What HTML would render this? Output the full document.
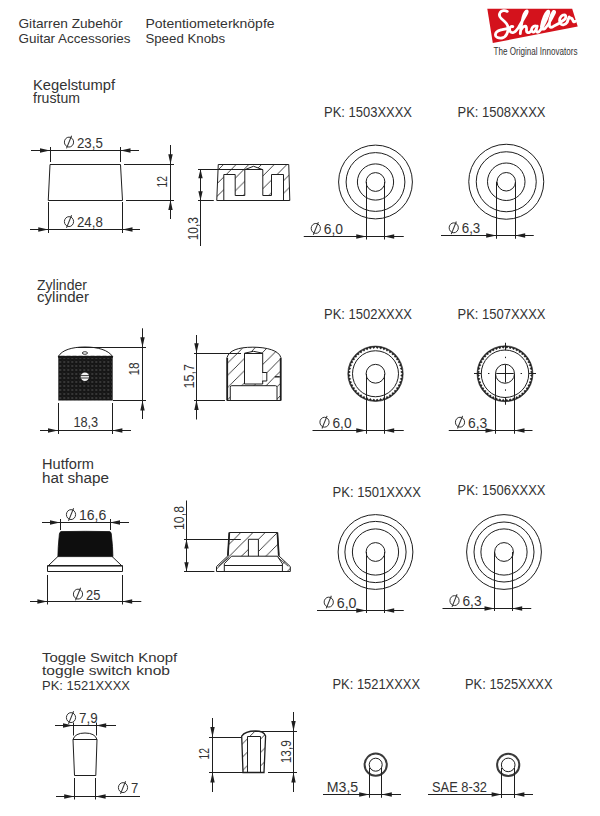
<!DOCTYPE html>
<html><head><meta charset="utf-8"><style>
html,body{margin:0;padding:0;background:#fff;}
body{width:600px;height:816px;overflow:hidden;position:relative;}
svg{position:absolute;left:0;top:0;}
text{font-family:"Liberation Sans",sans-serif;}
</style></head><body>
<svg width="600" height="816" viewBox="0 0 600 816">
<defs>
<pattern id="hatch1" patternUnits="userSpaceOnUse" x="7.0" y="0" width="12.7" height="12.7"><path d="M-1,13.7 L13.7,-1 M-1,1 L1,-1 M11.7,13.7 L13.7,11.7" stroke="#1e1e1e" stroke-width="0.85"/></pattern><pattern id="hatch2" patternUnits="userSpaceOnUse" x="5.1" y="0" width="12.2" height="12.2"><path d="M-1,13.2 L13.2,-1 M-1,1 L1,-1 M11.2,13.2 L13.2,11.2" stroke="#1e1e1e" stroke-width="0.85"/></pattern><pattern id="hatch3" patternUnits="userSpaceOnUse" x="4.7" y="0" width="12.2" height="12.2"><path d="M-1,13.2 L13.2,-1 M-1,1 L1,-1 M11.2,13.2 L13.2,11.2" stroke="#1e1e1e" stroke-width="0.85"/></pattern><pattern id="hatch4" patternUnits="userSpaceOnUse" x="8.0" y="0" width="13.4" height="13.4"><path d="M-1,14.4 L14.4,-1 M-1,1 L1,-1 M12.4,14.4 L14.4,12.4" stroke="#1e1e1e" stroke-width="0.85"/></pattern>
<pattern id="knurl" patternUnits="userSpaceOnUse" x="58.3" y="356" width="4" height="4">
<circle cx="2" cy="2" r="0.8" fill="#5e5e5e"/><circle cx="0" cy="0" r="0.5" fill="#3a3a3a"/></pattern>
<clipPath id="c1"><path d="M218.25,164.5 L288.75,164.5 L289.8,200.5 L216.75,200.5 Z"/></clipPath>
<clipPath id="c2"><path d="M227,400.5 V357.6 C229,350.5 238,347.2 252.8,347.2 C267,347.2 279,350.5 280.9,357.6 V400.5 Z"/></clipPath>
<clipPath id="c3"><path d="M229.3,532.5 L277.4,532.5 L278.8,555.8 L290.3,566.6 L290.3,571.5 L216.5,571.5 L216.5,566.6 L227.9,555.8 Z"/></clipPath>
<clipPath id="c4"><path d="M241.7,736.2 C244,732.5 249,731 255.5,731 C261,731 264.5,733 265.6,735.9 L264,772.5 L243,772.5 Z"/></clipPath>
</defs>
<text x="18.5" y="27.9" font-size="13" fill="#333333" text-anchor="start" textLength="104" lengthAdjust="spacingAndGlyphs" >Gitarren Zubehör</text>
<text x="18.5" y="42.9" font-size="13" fill="#333333" text-anchor="start" textLength="112" lengthAdjust="spacingAndGlyphs" >Guitar Accessories</text>
<text x="145.4" y="27.9" font-size="13" fill="#333333" text-anchor="start" textLength="129.2" lengthAdjust="spacingAndGlyphs" >Potentiometerknöpfe</text>
<text x="145.4" y="42.9" font-size="13" fill="#333333" text-anchor="start" textLength="79.7" lengthAdjust="spacingAndGlyphs" >Speed Knobs</text>
<polygon points="487.3,8.7 572.2,8.7 577.7,26.4 492.8,43.1" fill="#d4121c"/>
<path d="M507.3,11.4 C505,10.2 501.5,10.4 500.1,12.6 C498.8,14.8 499.5,17 501.5,18.8 C504,21 507.4,23 508,27 C508.5,31.5 506.5,37.3 502,38 C498.5,38.5 495.4,37.3 495.4,35 C495.4,32.5 498,30.6 501,29.9 C503.5,29.4 506.3,28.9 508.6,28.2 M512.8,26.6 C511,25.9 509.4,27.6 509.6,29.8 C509.8,32 511.5,33 513.5,32.5 C515.5,32 517,29.5 518.5,27.5 C520.5,24 523.5,19 525.5,15.5 C527,12.8 527.8,11 526.8,11 C525.5,11 524,14 523,17.5 C521.8,22 520.6,28 520.3,33.6 M520.8,30.2 C522,28 523.8,26.2 525.4,26.2 C527,26.4 526.4,29 526.5,30.8 C526.6,32.4 528,33 529.5,32.4 C530.5,32 531,31 531.5,30.2 M536.5,26.2 C534.5,25.3 532.2,26.8 531.6,29 C531.2,31 532.5,32.5 534,32 C535.5,31.4 536.5,28.5 537.2,26.2 C536.5,28.5 536,31.2 537,32 C538,32.6 539.5,31.5 540.5,30 C543,26.5 546.5,19.5 548.4,14 C549.3,11.5 548.6,10.5 547.4,11.5 C545,14 542.5,21 541.5,26 C541,29 542.5,30 545,28.5 C548,25.5 552,18 554.2,13.5 C555.2,11.4 554.3,10.7 553,12 C550.8,15 549.2,21.5 549.4,25.5 C549.6,27.8 551.5,27.6 553.5,26.3 C556,25.2 561,22.2 564.3,19.6 C566.3,18 566.3,15 564.3,14.8 C562,14.6 559.8,17.5 559.6,20 C559.4,23 561,25 563.3,24.8 C565,24.6 566.5,23.5 567.2,22.3 C567.8,20.5 568.3,18.5 569.2,16.9 C569.8,17.6 570,18.3 570.8,18.2 C571.6,18 572.4,19 572.9,20.5 C573.4,22 574.3,22.4 575.3,21.3" fill="none" stroke="#fff" stroke-width="2.8" stroke-linecap="round" stroke-linejoin="round"/>
<text x="493.6" y="54.9" font-size="10" fill="#333" text-anchor="start" textLength="84" lengthAdjust="spacingAndGlyphs" >The Original Innovators</text>
<text x="33" y="89.8" font-size="14" fill="#333333" text-anchor="start" textLength="82" lengthAdjust="spacingAndGlyphs" >Kegelstumpf</text>
<text x="33" y="102.6" font-size="14" fill="#333333" text-anchor="start" textLength="47" lengthAdjust="spacingAndGlyphs" >frustum</text>
<text x="37" y="290.3" font-size="14" fill="#333333" text-anchor="start" textLength="50" lengthAdjust="spacingAndGlyphs" >Zylinder</text>
<text x="37" y="302.2" font-size="14" fill="#333333" text-anchor="start" textLength="52" lengthAdjust="spacingAndGlyphs" >cylinder</text>
<text x="42" y="469.4" font-size="14" fill="#333333" text-anchor="start" textLength="52" lengthAdjust="spacingAndGlyphs" >Hutform</text>
<text x="42" y="482.6" font-size="14" fill="#333333" text-anchor="start" textLength="67" lengthAdjust="spacingAndGlyphs" >hat shape</text>
<text x="42" y="662.3" font-size="13" fill="#333333" text-anchor="start" textLength="135.2" lengthAdjust="spacingAndGlyphs" >Toggle Switch Knopf</text>
<text x="42" y="674.6" font-size="13" fill="#333333" text-anchor="start" textLength="128" lengthAdjust="spacingAndGlyphs" >toggle switch knob</text>
<text x="42" y="689.8" font-size="13" fill="#333333" text-anchor="start" textLength="88" lengthAdjust="spacingAndGlyphs" >PK: 1521XXXX</text>
<text x="324" y="116.8" font-size="14" fill="#333333" text-anchor="start" textLength="88" lengthAdjust="spacingAndGlyphs" >PK: 1503XXXX</text>
<text x="457.5" y="116.8" font-size="14" fill="#333333" text-anchor="start" textLength="88" lengthAdjust="spacingAndGlyphs" >PK: 1508XXXX</text>
<text x="324" y="319.3" font-size="14" fill="#333333" text-anchor="start" textLength="88" lengthAdjust="spacingAndGlyphs" >PK: 1502XXXX</text>
<text x="457.5" y="319.3" font-size="14" fill="#333333" text-anchor="start" textLength="88" lengthAdjust="spacingAndGlyphs" >PK: 1507XXXX</text>
<text x="332.5" y="496.8" font-size="14" fill="#333333" text-anchor="start" textLength="88.5" lengthAdjust="spacingAndGlyphs" >PK: 1501XXXX</text>
<text x="457.5" y="495.3" font-size="14" fill="#333333" text-anchor="start" textLength="88" lengthAdjust="spacingAndGlyphs" >PK: 1506XXXX</text>
<text x="332.5" y="689.3" font-size="14" fill="#333333" text-anchor="start" textLength="87.5" lengthAdjust="spacingAndGlyphs" >PK: 1521XXXX</text>
<text x="465" y="689.3" font-size="14" fill="#333333" text-anchor="start" textLength="87.5" lengthAdjust="spacingAndGlyphs" >PK: 1525XXXX</text>
<path d="M50,164.5 L120.5,164.5 L122.5,200.5 L48.25,200.5 Z" fill="none" stroke="#1e1e1e" stroke-width="1.0" />
<line x1="50.5" y1="147" x2="50.5" y2="162" stroke="#1e1e1e" stroke-width="1.0"/>
<line x1="120.5" y1="147" x2="120.5" y2="162" stroke="#1e1e1e" stroke-width="1.0"/>
<line x1="31" y1="150.5" x2="139" y2="150.5" stroke="#1e1e1e" stroke-width="1.0"/>
<polygon points="50.00,150.50 40.00,148.30 40.00,152.70" fill="#1e1e1e"/>
<polygon points="120.50,150.50 130.50,148.30 130.50,152.70" fill="#1e1e1e"/>
<ellipse cx="69.00" cy="142.10" rx="4.6" ry="4.95" fill="none" stroke="#333333" stroke-width="1.0"/>
<line x1="66.50" y1="148.40" x2="71.60" y2="135.80" stroke="#333333" stroke-width="1.05"/>
<text x="77.0" y="147.5" font-size="14" fill="#333333" text-anchor="start" textLength="25.8" lengthAdjust="spacingAndGlyphs" >23,5</text>
<line x1="48.5" y1="202" x2="48.5" y2="233" stroke="#1e1e1e" stroke-width="1.0"/>
<line x1="122.5" y1="202" x2="122.5" y2="233" stroke="#1e1e1e" stroke-width="1.0"/>
<line x1="30" y1="229.5" x2="140" y2="229.5" stroke="#1e1e1e" stroke-width="1.0"/>
<polygon points="48.25,229.50 38.25,227.30 38.25,231.70" fill="#1e1e1e"/>
<polygon points="122.50,229.50 132.50,227.30 132.50,231.70" fill="#1e1e1e"/>
<ellipse cx="69.00" cy="221.60" rx="4.6" ry="4.95" fill="none" stroke="#333333" stroke-width="1.0"/>
<line x1="66.50" y1="227.90" x2="71.60" y2="215.30" stroke="#333333" stroke-width="1.05"/>
<text x="77.0" y="227" font-size="14" fill="#333333" text-anchor="start" textLength="25.8" lengthAdjust="spacingAndGlyphs" >24,8</text>
<line x1="124" y1="164.5" x2="174" y2="164.5" stroke="#1e1e1e" stroke-width="1.0"/>
<line x1="126" y1="200.5" x2="174" y2="200.5" stroke="#1e1e1e" stroke-width="1.0"/>
<line x1="170.5" y1="145" x2="170.5" y2="219" stroke="#1e1e1e" stroke-width="1.0"/>
<polygon points="170.50,164.25 168.30,154.25 172.70,154.25" fill="#1e1e1e"/>
<polygon points="170.50,200.00 168.30,210.00 172.70,210.00" fill="#1e1e1e"/>
<text x="167" y="181.75" font-size="14" fill="#333333" text-anchor="middle" textLength="11.5" lengthAdjust="spacingAndGlyphs" transform="rotate(-90 167 181.75)" >12</text>
<g clip-path="url(#c1)"><rect x="210" y="160" width="90" height="45" fill="url(#hatch1)"/></g>
<path d="M223.8,200.5 V174.5 H235.2 V195.5 H244.8 V169.7 L253.5,166.25 L262.8,169.7 V195.5 H271.5 V174.5 H283.5 V200.5 Z" fill="#fff" stroke="#1e1e1e" stroke-width="0" stroke-opacity="0"/>
<path d="M223.8,200.5 V174.5 H235.2 V195.5 H244.8 V169.7 L253.5,166.25 L262.8,169.7 V195.5 H271.5 V174.5 H283.5 V200.5" fill="none" stroke="#1e1e1e" stroke-width="1.0" />
<line x1="244.8" y1="169.5" x2="262.8" y2="169.5" stroke="#1e1e1e" stroke-width="1.0"/>
<path d="M218.25,164.5 L288.75,164.5 L289.8,200.5 L216.75,200.5 Z" fill="none" stroke="#1e1e1e" stroke-width="1.0" />
<line x1="198" y1="169.5" x2="244.8" y2="169.5" stroke="#1e1e1e" stroke-width="1.0"/>
<line x1="198" y1="200.5" x2="213.8" y2="200.5" stroke="#1e1e1e" stroke-width="1.0"/>
<line x1="200.5" y1="169.3" x2="200.5" y2="246" stroke="#1e1e1e" stroke-width="1.0"/>
<polygon points="200.50,169.30 198.30,178.30 202.70,178.30" fill="#1e1e1e"/>
<polygon points="200.50,200.20 198.30,191.20 202.70,191.20" fill="#1e1e1e"/>
<text x="198" y="228.65" font-size="14" fill="#333333" text-anchor="middle" textLength="23.3" lengthAdjust="spacingAndGlyphs" transform="rotate(-90 198 228.65)" >10,3</text>
<circle cx="375.5" cy="182" r="36.9" fill="none" stroke="#1e1e1e" stroke-width="1.0"/>
<circle cx="375.5" cy="182" r="29.4" fill="none" stroke="#1e1e1e" stroke-width="1.0"/>
<circle cx="375.5" cy="182" r="18.1" fill="none" stroke="#1e1e1e" stroke-width="1.0"/>
<circle cx="375.5" cy="182" r="9.4" fill="none" stroke="#1e1e1e" stroke-width="1.0"/>
<line x1="366.5" y1="182" x2="366.5" y2="239.5" stroke="#1e1e1e" stroke-width="1.0"/>
<line x1="384.5" y1="182" x2="384.5" y2="239.5" stroke="#1e1e1e" stroke-width="1.0"/>
<line x1="303.75" y1="236.5" x2="403.75" y2="236.5" stroke="#1e1e1e" stroke-width="1.0"/>
<polygon points="366.25,236.50 356.25,234.30 356.25,238.70" fill="#1e1e1e"/>
<polygon points="384.20,236.50 394.20,234.30 394.20,238.70" fill="#1e1e1e"/>
<ellipse cx="315.80" cy="228.40" rx="4.6" ry="4.95" fill="none" stroke="#333333" stroke-width="1.0"/>
<line x1="313.30" y1="234.70" x2="318.40" y2="222.10" stroke="#333333" stroke-width="1.05"/>
<text x="323.8" y="233.8" font-size="14" fill="#333333" text-anchor="start" textLength="19.3" lengthAdjust="spacingAndGlyphs" >6,0</text>
<circle cx="506.25" cy="181.75" r="37.5" fill="none" stroke="#1e1e1e" stroke-width="1.0"/>
<circle cx="506.25" cy="181.75" r="30" fill="none" stroke="#1e1e1e" stroke-width="1.0"/>
<circle cx="506.25" cy="181.75" r="18.75" fill="none" stroke="#1e1e1e" stroke-width="1.0"/>
<circle cx="506.25" cy="181.75" r="9.25" fill="none" stroke="#1e1e1e" stroke-width="1.0"/>
<line x1="496.5" y1="181.75" x2="496.5" y2="238.75" stroke="#1e1e1e" stroke-width="1.0"/>
<line x1="515.5" y1="181.75" x2="515.5" y2="238.75" stroke="#1e1e1e" stroke-width="1.0"/>
<line x1="441" y1="235.5" x2="533.75" y2="235.5" stroke="#1e1e1e" stroke-width="1.0"/>
<polygon points="496.20,235.50 486.20,233.30 486.20,237.70" fill="#1e1e1e"/>
<polygon points="515.20,235.50 525.20,233.30 525.20,237.70" fill="#1e1e1e"/>
<ellipse cx="453.75" cy="227.80" rx="4.6" ry="4.95" fill="none" stroke="#333333" stroke-width="1.0"/>
<line x1="451.25" y1="234.10" x2="456.35" y2="221.50" stroke="#333333" stroke-width="1.05"/>
<text x="461.75" y="233.2" font-size="14" fill="#333333" text-anchor="start" textLength="18.55" lengthAdjust="spacingAndGlyphs" >6,3</text>
<path d="M58.3,356.5 C62,350 72,347 85,347 C98,347 108,350 112.7,356.5 Z" fill="#fff" stroke="#1e1e1e" stroke-width="1"/>
<rect x="58.3" y="356" width="54.4" height="44.5" fill="#161616"/>
<rect x="58.3" y="356" width="54.4" height="44.5" fill="url(#knurl)"/>
<path d="M58.3,356.6 L58.90,355.2 L59.50,356.6 L60.10,355.2 L60.70,356.6 L61.30,355.2 L61.90,356.6 L62.50,355.2 L63.10,356.6 L63.70,355.2 L64.30,356.6 L64.90,355.2 L65.50,356.6 L66.10,355.2 L66.70,356.6 L67.30,355.2 L67.90,356.6 L68.50,355.2 L69.10,356.6 L69.70,355.2 L70.30,356.6 L70.90,355.2 L71.50,356.6 L72.10,355.2 L72.70,356.6 L73.30,355.2 L73.90,356.6 L74.50,355.2 L75.10,356.6 L75.70,355.2 L76.30,356.6 L76.90,355.2 L77.50,356.6 L78.10,355.2 L78.70,356.6 L79.30,355.2 L79.90,356.6 L80.50,355.2 L81.10,356.6 L81.70,355.2 L82.30,356.6 L82.90,355.2 L83.50,356.6 L84.10,355.2 L84.70,356.6 L85.30,355.2 L85.90,356.6 L86.50,355.2 L87.10,356.6 L87.70,355.2 L88.30,356.6 L88.90,355.2 L89.50,356.6 L90.10,355.2 L90.70,356.6 L91.30,355.2 L91.90,356.6 L92.50,355.2 L93.10,356.6 L93.70,355.2 L94.30,356.6 L94.90,355.2 L95.50,356.6 L96.10,355.2 L96.70,356.6 L97.30,355.2 L97.90,356.6 L98.50,355.2 L99.10,356.6 L99.70,355.2 L100.30,356.6 L100.90,355.2 L101.50,356.6 L102.10,355.2 L102.70,356.6 L103.30,355.2 L103.90,356.6 L104.50,355.2 L105.10,356.6 L105.70,355.2 L106.30,356.6 L106.90,355.2 L107.50,356.6 L108.10,355.2 L108.70,356.6 L109.30,355.2 L109.90,356.6 L110.50,355.2 L111.10,356.6 L111.70,355.2 L112.30,356.6 L112.7,356.6 L112.7,358 L58.3,358 Z" fill="#161616"/>
<ellipse cx="84.9" cy="353" rx="2.6" ry="1.3" fill="none" stroke="#222" stroke-width="0.9"/>
<circle cx="84.9" cy="376.7" r="4.2" fill="#f4f4f4"/>
<line x1="80.5" y1="375.6" x2="89.3" y2="375.6" stroke="#222" stroke-width="0.9"/><line x1="80.5" y1="378" x2="89.3" y2="378" stroke="#222" stroke-width="0.9"/>
<line x1="78" y1="347.5" x2="146" y2="347.5" stroke="#1e1e1e" stroke-width="1.0"/>
<line x1="113" y1="400.5" x2="146" y2="400.5" stroke="#1e1e1e" stroke-width="1.0"/>
<line x1="142.5" y1="328.3" x2="142.5" y2="419" stroke="#1e1e1e" stroke-width="1.0"/>
<polygon points="142.50,347.20 140.30,337.20 144.70,337.20" fill="#1e1e1e"/>
<polygon points="142.50,400.50 140.30,410.50 144.70,410.50" fill="#1e1e1e"/>
<text x="139.25" y="368.9" font-size="14" fill="#333333" text-anchor="middle" textLength="13.25" lengthAdjust="spacingAndGlyphs" transform="rotate(-90 139.25 368.9)" >18</text>
<line x1="58.5" y1="403" x2="58.5" y2="434" stroke="#1e1e1e" stroke-width="1.0"/>
<line x1="112.5" y1="403" x2="112.5" y2="434" stroke="#1e1e1e" stroke-width="1.0"/>
<line x1="40" y1="430.5" x2="131" y2="430.5" stroke="#1e1e1e" stroke-width="1.0"/>
<polygon points="58.00,430.50 48.00,428.30 48.00,432.70" fill="#1e1e1e"/>
<polygon points="112.40,430.50 122.40,428.30 122.40,432.70" fill="#1e1e1e"/>
<text x="73.4" y="427.3" font-size="14" fill="#333333" text-anchor="start" textLength="24.8" lengthAdjust="spacingAndGlyphs" >18,3</text>
<g clip-path="url(#c2)"><rect x="220" y="340" width="70" height="65" fill="url(#hatch2)"/></g>
<path d="M244.5,384 V353.2 L253.5,351.3 L262.7,353.2 V384 Z" fill="#fff" stroke="#1e1e1e" stroke-width="1.0" />
<line x1="244.5" y1="353.5" x2="262.7" y2="353.5" stroke="#1e1e1e" stroke-width="1.0"/>
<path d="M230.25,400.5 V387.2 Q230.25,385.7 231.75,385.7 H275.5 Q277,385.7 277,387.2 V400.5 Z" fill="#fff" stroke="#1e1e1e" stroke-width="1.0" />
<path d="M262.2,372.5 H266.8 V381 H262.2" fill="#fff" stroke="#1e1e1e" stroke-width="1.0" />
<line x1="274.8" y1="376.8" x2="279.8" y2="376.8" stroke="#1e1e1e" stroke-width="1.4"/>
<path d="M227,400.5 V357.6 C229,350.5 238,347.2 252.8,347.2 C267,347.2 279,350.5 280.9,357.6 V400.5 Z" fill="none" stroke="#1e1e1e" stroke-width="1.0" />
<line x1="227.3" y1="358" x2="227.3" y2="400.5" stroke="#1e1e1e" stroke-width="1.6"/>
<line x1="280.6" y1="358" x2="280.6" y2="400.5" stroke="#1e1e1e" stroke-width="1.6"/>
<line x1="194" y1="353.5" x2="241" y2="353.5" stroke="#1e1e1e" stroke-width="1.0"/>
<line x1="194" y1="400.5" x2="225" y2="400.5" stroke="#1e1e1e" stroke-width="1.0"/>
<line x1="196.5" y1="335" x2="196.5" y2="419.5" stroke="#1e1e1e" stroke-width="1.0"/>
<polygon points="196.50,353.20 194.30,343.20 198.70,343.20" fill="#1e1e1e"/>
<polygon points="196.50,400.00 194.30,410.00 198.70,410.00" fill="#1e1e1e"/>
<text x="194" y="376.25" font-size="14" fill="#333333" text-anchor="middle" textLength="24.5" lengthAdjust="spacingAndGlyphs" transform="rotate(-90 194 376.25)" >15,7</text>
<path d="M347.8,373.75 a27.7,27.7 0 1,0 55.4,0 a27.7,27.7 0 1,0 -55.4,0 Z M402.80,373.75 L400.75,375.40 L402.57,377.31 L400.31,378.69 L401.87,380.82 L399.46,381.88 L400.72,384.20 L398.19,384.94 L399.14,387.40 L396.54,387.81 L397.16,390.37 L394.52,390.43 L394.80,393.05 L392.18,392.77 L392.12,395.41 L389.56,394.79 L389.15,397.39 L386.69,396.44 L385.95,398.97 L383.63,397.71 L382.57,400.12 L380.44,398.56 L379.06,400.82 L377.15,399.00 L375.50,401.05 L373.85,399.00 L371.94,400.82 L370.56,398.56 L368.43,400.12 L367.37,397.71 L365.05,398.97 L364.31,396.44 L361.85,397.39 L361.44,394.79 L358.88,395.41 L358.82,392.77 L356.20,393.05 L356.48,390.43 L353.84,390.37 L354.46,387.81 L351.86,387.40 L352.81,384.94 L350.28,384.20 L351.54,381.88 L349.13,380.82 L350.69,378.69 L348.43,377.31 L350.25,375.40 L348.20,373.75 L350.25,372.10 L348.43,370.19 L350.69,368.81 L349.13,366.68 L351.54,365.62 L350.28,363.30 L352.81,362.56 L351.86,360.10 L354.46,359.69 L353.84,357.13 L356.48,357.07 L356.20,354.45 L358.82,354.73 L358.88,352.09 L361.44,352.71 L361.85,350.11 L364.31,351.06 L365.05,348.53 L367.37,349.79 L368.43,347.38 L370.56,348.94 L371.94,346.68 L373.85,348.50 L375.50,346.45 L377.15,348.50 L379.06,346.68 L380.44,348.94 L382.57,347.38 L383.63,349.79 L385.95,348.53 L386.69,351.06 L389.15,350.11 L389.56,352.71 L392.12,352.09 L392.18,354.73 L394.80,354.45 L394.52,357.07 L397.16,357.13 L396.54,359.69 L399.14,360.10 L398.19,362.56 L400.72,363.30 L399.46,365.62 L401.87,366.68 L400.31,368.81 L402.57,370.19 L400.75,372.10 Z" fill="#1e1e1e" fill-rule="evenodd" stroke="#1e1e1e" stroke-width="0.6"/>
<circle cx="375.5" cy="373.75" r="23" fill="none" stroke="#1e1e1e" stroke-width="1.0"/>
<circle cx="375.5" cy="373.75" r="9.4" fill="#fff" stroke="#1e1e1e" stroke-width="1.0"/>
<line x1="366.5" y1="373.75" x2="366.5" y2="433.75" stroke="#1e1e1e" stroke-width="1.0"/>
<line x1="384.5" y1="373.75" x2="384.5" y2="433.75" stroke="#1e1e1e" stroke-width="1.0"/>
<line x1="312.5" y1="430.5" x2="403.75" y2="430.5" stroke="#1e1e1e" stroke-width="1.0"/>
<polygon points="366.25,430.50 356.25,428.30 356.25,432.70" fill="#1e1e1e"/>
<polygon points="384.20,430.50 394.20,428.30 394.20,432.70" fill="#1e1e1e"/>
<ellipse cx="324.50" cy="422.20" rx="4.6" ry="4.95" fill="none" stroke="#333333" stroke-width="1.0"/>
<line x1="322.00" y1="428.50" x2="327.10" y2="415.90" stroke="#333333" stroke-width="1.05"/>
<text x="332.5" y="427.6" font-size="14" fill="#333333" text-anchor="start" textLength="19.05" lengthAdjust="spacingAndGlyphs" >6,0</text>
<path d="M477.05,373.75 a27.95,27.95 0 1,0 55.9,0 a27.95,27.95 0 1,0 -55.9,0 Z M532.55,373.75 L530.50,375.42 L532.31,377.35 L530.06,378.73 L531.61,380.88 L529.19,381.96 L530.45,384.29 L527.92,385.05 L528.86,387.52 L526.24,387.94 L526.86,390.52 L524.21,390.60 L524.48,393.23 L521.85,392.96 L521.77,395.61 L519.19,394.99 L518.77,397.61 L516.30,396.67 L515.54,399.20 L513.21,397.94 L512.13,400.36 L509.98,398.81 L508.60,401.06 L506.67,399.25 L505.00,401.30 L503.33,399.25 L501.40,401.06 L500.02,398.81 L497.87,400.36 L496.79,397.94 L494.46,399.20 L493.70,396.67 L491.23,397.61 L490.81,394.99 L488.23,395.61 L488.15,392.96 L485.52,393.23 L485.79,390.60 L483.14,390.52 L483.76,387.94 L481.14,387.52 L482.08,385.05 L479.55,384.29 L480.81,381.96 L478.39,380.88 L479.94,378.73 L477.69,377.35 L479.50,375.42 L477.45,373.75 L479.50,372.08 L477.69,370.15 L479.94,368.77 L478.39,366.62 L480.81,365.54 L479.55,363.21 L482.08,362.45 L481.14,359.98 L483.76,359.56 L483.14,356.98 L485.79,356.90 L485.52,354.27 L488.15,354.54 L488.23,351.89 L490.81,352.51 L491.22,349.89 L493.70,350.83 L494.46,348.30 L496.79,349.56 L497.87,347.14 L500.02,348.69 L501.40,346.44 L503.33,348.25 L505.00,346.20 L506.67,348.25 L508.60,346.44 L509.98,348.69 L512.13,347.14 L513.21,349.56 L515.54,348.30 L516.30,350.83 L518.77,349.89 L519.19,352.51 L521.77,351.89 L521.85,354.54 L524.48,354.27 L524.21,356.90 L526.86,356.98 L526.24,359.56 L528.86,359.97 L527.92,362.45 L530.45,363.21 L529.19,365.54 L531.61,366.62 L530.06,368.77 L532.31,370.15 L530.50,372.08 Z" fill="#1e1e1e" fill-rule="evenodd" stroke="#1e1e1e" stroke-width="0.6"/>
<circle cx="505" cy="373.75" r="23.75" fill="none" stroke="#1e1e1e" stroke-width="1.0"/>
<circle cx="505" cy="373.75" r="9.5" fill="#fff" stroke="#1e1e1e" stroke-width="1.0"/>
<line x1="474" y1="373.5" x2="481.5" y2="373.5" stroke="#1e1e1e" stroke-width="1.0"/>
<line x1="505.5" y1="342.75" x2="505.5" y2="350.25" stroke="#1e1e1e" stroke-width="1.0"/>
<line x1="488" y1="373.5" x2="489.4" y2="373.5" stroke="#1e1e1e" stroke-width="1.0"/>
<line x1="505.5" y1="356.75" x2="505.5" y2="358.15" stroke="#1e1e1e" stroke-width="1.0"/>
<line x1="496.25" y1="373.5" x2="513.75" y2="373.5" stroke="#1e1e1e" stroke-width="1.0"/>
<line x1="505.5" y1="365.0" x2="505.5" y2="382.5" stroke="#1e1e1e" stroke-width="1.0"/>
<line x1="520.6" y1="373.5" x2="522" y2="373.5" stroke="#1e1e1e" stroke-width="1.0"/>
<line x1="505.5" y1="389.35" x2="505.5" y2="390.75" stroke="#1e1e1e" stroke-width="1.0"/>
<line x1="528.5" y1="373.5" x2="536" y2="373.5" stroke="#1e1e1e" stroke-width="1.0"/>
<line x1="505.5" y1="397.25" x2="505.5" y2="404.75" stroke="#1e1e1e" stroke-width="1.0"/>
<line x1="495.5" y1="373.75" x2="495.5" y2="433.75" stroke="#1e1e1e" stroke-width="1.0"/>
<line x1="514.5" y1="373.75" x2="514.5" y2="433.75" stroke="#1e1e1e" stroke-width="1.0"/>
<line x1="448.75" y1="430.5" x2="532.5" y2="430.5" stroke="#1e1e1e" stroke-width="1.0"/>
<polygon points="495.50,430.50 485.50,428.30 485.50,432.70" fill="#1e1e1e"/>
<polygon points="514.50,430.50 524.50,428.30 524.50,432.70" fill="#1e1e1e"/>
<ellipse cx="460.00" cy="422.20" rx="4.6" ry="4.95" fill="none" stroke="#333333" stroke-width="1.0"/>
<line x1="457.50" y1="428.50" x2="462.60" y2="415.90" stroke="#333333" stroke-width="1.05"/>
<text x="468.0" y="427.6" font-size="14" fill="#333333" text-anchor="start" textLength="19.3" lengthAdjust="spacingAndGlyphs" >6,3</text>
<path d="M61,531.6 Q85.3,531 109.8,531.6 Q111,531.9 111.3,534 Q112.9,548 112.9,556.6 L57.9,556.6 Q57.9,548 59.4,534 Q59.8,531.9 61,531.6 Z" fill="#0e0e0e" stroke="#0e0e0e" stroke-width="0.8"/>
<path d="M58,556.4 L48.5,565.5 L121.5,565.5 L112,556.4" fill="none" stroke="#1e1e1e" stroke-width="1.0" />
<path d="M47.5,565.5 L122.5,565.5 L122.5,571.5 L47.5,571.5 Z" fill="none" stroke="#1e1e1e" stroke-width="1.0" />
<line x1="48" y1="566.5" x2="122" y2="566.5" stroke="#666" stroke-width="0.8"/>
<line x1="60.5" y1="519" x2="60.5" y2="530" stroke="#1e1e1e" stroke-width="1.0"/>
<line x1="110.5" y1="519" x2="110.5" y2="530" stroke="#1e1e1e" stroke-width="1.0"/>
<line x1="42" y1="522.5" x2="129" y2="522.5" stroke="#1e1e1e" stroke-width="1.0"/>
<polygon points="60.00,522.50 50.00,520.30 50.00,524.70" fill="#1e1e1e"/>
<polygon points="110.00,522.50 120.00,520.30 120.00,524.70" fill="#1e1e1e"/>
<ellipse cx="71.00" cy="514.60" rx="4.6" ry="4.95" fill="none" stroke="#333333" stroke-width="1.0"/>
<line x1="68.50" y1="520.90" x2="73.60" y2="508.30" stroke="#333333" stroke-width="1.05"/>
<text x="79.0" y="520" font-size="14" fill="#333333" text-anchor="start" textLength="27.3" lengthAdjust="spacingAndGlyphs" >16,6</text>
<line x1="47.5" y1="575" x2="47.5" y2="604.5" stroke="#1e1e1e" stroke-width="1.0"/>
<line x1="122.5" y1="575" x2="122.5" y2="604.5" stroke="#1e1e1e" stroke-width="1.0"/>
<line x1="30" y1="601.5" x2="141.3" y2="601.5" stroke="#1e1e1e" stroke-width="1.0"/>
<polygon points="47.20,601.50 37.40,599.30 37.40,603.70" fill="#1e1e1e"/>
<polygon points="122.40,601.50 132.20,599.30 132.20,603.70" fill="#1e1e1e"/>
<ellipse cx="78.00" cy="594.10" rx="4.6" ry="4.95" fill="none" stroke="#333333" stroke-width="1.0"/>
<line x1="75.50" y1="600.40" x2="80.60" y2="587.80" stroke="#333333" stroke-width="1.05"/>
<text x="86.0" y="599.5" font-size="14" fill="#333333" text-anchor="start" textLength="14.3" lengthAdjust="spacingAndGlyphs" >25</text>
<g clip-path="url(#c3)"><rect x="215" y="528" width="80" height="46" fill="url(#hatch3)"/></g>
<path d="M248.4,556.5 V539.3 H258.4 V556.5" fill="#fff" stroke="#1e1e1e" stroke-width="1.0" />
<path d="M224.3,571.5 V563.7 L231.5,556.2 H277.4 L282.4,563.7 V571.5 Z" fill="#fff" stroke="#1e1e1e" stroke-width="1.0" />
<line x1="224.3" y1="565.5" x2="282.4" y2="565.5" stroke="#1e1e1e" stroke-width="1.0"/>
<line x1="218.5" y1="566.3" x2="228.8" y2="557.6" stroke="#1e1e1e" stroke-width="0.8"/>
<line x1="288.3" y1="566.3" x2="278.2" y2="557.6" stroke="#1e1e1e" stroke-width="0.8"/>
<path d="M229.3,532.5 L277.4,532.5 L278.8,555.8 L290.3,566.6 L290.3,571.5 L216.5,571.5 L216.5,566.6 L227.9,555.8 Z" fill="none" stroke="#1e1e1e" stroke-width="1.0" />
<line x1="229.3" y1="532.5" x2="227.9" y2="555.8" stroke="#1e1e1e" stroke-width="1.7"/>
<line x1="277.4" y1="532.5" x2="278.8" y2="555.8" stroke="#1e1e1e" stroke-width="1.7"/>
<line x1="184" y1="539.5" x2="240.8" y2="539.5" stroke="#1e1e1e" stroke-width="1.0"/>
<line x1="184" y1="571.5" x2="214.4" y2="571.5" stroke="#1e1e1e" stroke-width="1.0"/>
<line x1="186.5" y1="500.5" x2="186.5" y2="571.2" stroke="#1e1e1e" stroke-width="1.0"/>
<polygon points="186.50,539.50 184.30,548.50 188.70,548.50" fill="#1e1e1e"/>
<polygon points="186.50,571.20 184.30,562.20 188.70,562.20" fill="#1e1e1e"/>
<text x="183.5" y="518" font-size="14" fill="#333333" text-anchor="middle" textLength="24" lengthAdjust="spacingAndGlyphs" transform="rotate(-90 183.5 518)" >10,8</text>
<circle cx="375.5" cy="552" r="37.4" fill="none" stroke="#1e1e1e" stroke-width="1.0"/>
<circle cx="375.5" cy="552" r="30.6" fill="none" stroke="#1e1e1e" stroke-width="1.0"/>
<circle cx="375.5" cy="552" r="23.1" fill="none" stroke="#1e1e1e" stroke-width="1.0"/>
<circle cx="375.5" cy="552" r="9.4" fill="none" stroke="#1e1e1e" stroke-width="1.0"/>
<line x1="366.5" y1="552" x2="366.5" y2="613" stroke="#1e1e1e" stroke-width="1.0"/>
<line x1="384.5" y1="552" x2="384.5" y2="613" stroke="#1e1e1e" stroke-width="1.0"/>
<line x1="317" y1="610.5" x2="403.75" y2="610.5" stroke="#1e1e1e" stroke-width="1.0"/>
<polygon points="366.25,610.50 356.25,608.30 356.25,612.70" fill="#1e1e1e"/>
<polygon points="384.20,610.50 394.20,608.30 394.20,612.70" fill="#1e1e1e"/>
<ellipse cx="328.75" cy="602.10" rx="4.6" ry="4.95" fill="none" stroke="#333333" stroke-width="1.0"/>
<line x1="326.25" y1="608.40" x2="331.35" y2="595.80" stroke="#333333" stroke-width="1.05"/>
<text x="336.75" y="607.5" font-size="14" fill="#333333" text-anchor="start" textLength="19.8" lengthAdjust="spacingAndGlyphs" >6,0</text>
<circle cx="504" cy="552" r="37.4" fill="none" stroke="#1e1e1e" stroke-width="1.0"/>
<circle cx="504" cy="552" r="30" fill="none" stroke="#1e1e1e" stroke-width="1.0"/>
<circle cx="504" cy="552" r="23.1" fill="none" stroke="#1e1e1e" stroke-width="1.0"/>
<circle cx="504" cy="552" r="9.4" fill="none" stroke="#1e1e1e" stroke-width="1.0"/>
<line x1="494.5" y1="552" x2="494.5" y2="611" stroke="#1e1e1e" stroke-width="1.0"/>
<line x1="512.5" y1="552" x2="512.5" y2="611" stroke="#1e1e1e" stroke-width="1.0"/>
<line x1="442.5" y1="608.5" x2="531.25" y2="608.5" stroke="#1e1e1e" stroke-width="1.0"/>
<polygon points="494.50,608.50 484.50,606.30 484.50,610.70" fill="#1e1e1e"/>
<polygon points="512.20,608.50 522.20,606.30 522.20,610.70" fill="#1e1e1e"/>
<ellipse cx="454.50" cy="600.60" rx="4.6" ry="4.95" fill="none" stroke="#333333" stroke-width="1.0"/>
<line x1="452.00" y1="606.90" x2="457.10" y2="594.30" stroke="#333333" stroke-width="1.05"/>
<text x="462.5" y="606" font-size="14" fill="#333333" text-anchor="start" textLength="19.05" lengthAdjust="spacingAndGlyphs" >6,3</text>
<path d="M73,739.5 Q75,733 85,733 Q95,733 97,739.5 Z" fill="none" stroke="#1e1e1e" stroke-width="1.0" />
<path d="M73,739.5 L97,739.5 L95.8,775.5 L74.5,775.5 Z" fill="none" stroke="#1e1e1e" stroke-width="1.0" />
<line x1="73.5" y1="722.5" x2="73.5" y2="735.5" stroke="#1e1e1e" stroke-width="1.0"/>
<line x1="96.5" y1="722.5" x2="96.5" y2="735.5" stroke="#1e1e1e" stroke-width="1.0"/>
<line x1="55" y1="725.5" x2="116" y2="725.5" stroke="#1e1e1e" stroke-width="1.0"/>
<polygon points="73.00,725.50 63.00,723.30 63.00,727.70" fill="#1e1e1e"/>
<polygon points="96.20,725.50 106.20,723.30 106.20,727.70" fill="#1e1e1e"/>
<ellipse cx="71.00" cy="717.60" rx="4.6" ry="4.95" fill="none" stroke="#333333" stroke-width="1.0"/>
<line x1="68.50" y1="723.90" x2="73.60" y2="711.30" stroke="#333333" stroke-width="1.05"/>
<text x="79.0" y="723" font-size="14" fill="#333333" text-anchor="start" textLength="18.6" lengthAdjust="spacingAndGlyphs" >7,9</text>
<line x1="74.5" y1="778" x2="74.5" y2="799.5" stroke="#1e1e1e" stroke-width="1.0"/>
<line x1="95.5" y1="778" x2="95.5" y2="799.5" stroke="#1e1e1e" stroke-width="1.0"/>
<line x1="56" y1="796.5" x2="140" y2="796.5" stroke="#1e1e1e" stroke-width="1.0"/>
<polygon points="74.20,796.50 64.20,794.30 64.20,798.70" fill="#1e1e1e"/>
<polygon points="95.60,796.50 105.60,794.30 105.60,798.70" fill="#1e1e1e"/>
<ellipse cx="123.00" cy="787.60" rx="4.6" ry="4.95" fill="none" stroke="#333333" stroke-width="1.0"/>
<line x1="120.50" y1="793.90" x2="125.60" y2="781.30" stroke="#333333" stroke-width="1.05"/>
<text x="131.0" y="793" font-size="14" fill="#333333" text-anchor="start" textLength="7.3" lengthAdjust="spacingAndGlyphs" >7</text>
<g clip-path="url(#c4)"><rect x="238" y="728" width="32" height="48" fill="url(#hatch4)"/></g>
<path d="M247.5,772.5 V736.5 H260.5 V772.5 Z" fill="#fff" stroke="#1e1e1e" stroke-width="1.0" />
<path d="M241.7,736.2 C244,732.5 249,731 255.5,731 C261,731 264.5,733 265.6,735.9 L264,772.5 L243,772.5 Z" fill="none" stroke="#1e1e1e" stroke-width="1.3" />
<line x1="209" y1="737.5" x2="241.5" y2="737.5" stroke="#1e1e1e" stroke-width="1.0"/>
<line x1="209" y1="772.5" x2="243" y2="772.5" stroke="#1e1e1e" stroke-width="1.0"/>
<line x1="212.5" y1="718" x2="212.5" y2="792" stroke="#1e1e1e" stroke-width="1.0"/>
<polygon points="212.50,737.00 210.30,727.00 214.70,727.00" fill="#1e1e1e"/>
<polygon points="212.50,772.40 210.30,782.40 214.70,782.40" fill="#1e1e1e"/>
<text x="209" y="753.75" font-size="14" fill="#333333" text-anchor="middle" textLength="11.5" lengthAdjust="spacingAndGlyphs" transform="rotate(-90 209 753.75)" >12</text>
<line x1="255" y1="731.5" x2="297" y2="731.5" stroke="#1e1e1e" stroke-width="1.0"/>
<line x1="268" y1="772.5" x2="297" y2="772.5" stroke="#1e1e1e" stroke-width="1.0"/>
<line x1="293.5" y1="712" x2="293.5" y2="792" stroke="#1e1e1e" stroke-width="1.0"/>
<polygon points="293.50,731.00 291.30,721.00 295.70,721.00" fill="#1e1e1e"/>
<polygon points="293.50,772.40 291.30,782.40 295.70,782.40" fill="#1e1e1e"/>
<text x="290.5" y="751.75" font-size="14" fill="#333333" text-anchor="middle" textLength="23" lengthAdjust="spacingAndGlyphs" transform="rotate(-90 290.5 751.75)" >13,9</text>
<circle cx="375.7" cy="764.7" r="11.1" fill="none" stroke="#3a3a3a" stroke-width="2.0"/>
<circle cx="375.7" cy="764.7" r="6.5" fill="none" stroke="#1e1e1e" stroke-width="1.0"/>
<line x1="369.5" y1="767.7" x2="369.5" y2="797.75" stroke="#1e1e1e" stroke-width="1.0"/>
<line x1="381.5" y1="767.7" x2="381.5" y2="797.75" stroke="#1e1e1e" stroke-width="1.0"/>
<line x1="323" y1="794.5" x2="401" y2="794.5" stroke="#1e1e1e" stroke-width="1.0"/>
<polygon points="369.20,794.50 359.20,792.30 359.20,796.70" fill="#1e1e1e"/>
<polygon points="381.80,794.50 391.80,792.30 391.80,796.70" fill="#1e1e1e"/>
<text x="326.75" y="791.75" font-size="14" fill="#333333" text-anchor="start" textLength="31.5" lengthAdjust="spacingAndGlyphs" >M3,5</text>
<circle cx="508.2" cy="764.9" r="11.1" fill="none" stroke="#3a3a3a" stroke-width="2.0"/>
<circle cx="508.2" cy="764.9" r="6.8" fill="none" stroke="#1e1e1e" stroke-width="1.0"/>
<line x1="501.5" y1="767.9" x2="501.5" y2="798" stroke="#1e1e1e" stroke-width="1.0"/>
<line x1="514.5" y1="767.9" x2="514.5" y2="798" stroke="#1e1e1e" stroke-width="1.0"/>
<line x1="428" y1="794.5" x2="533" y2="794.5" stroke="#1e1e1e" stroke-width="1.0"/>
<polygon points="501.60,794.50 491.60,792.30 491.60,796.70" fill="#1e1e1e"/>
<polygon points="514.40,794.50 524.40,792.30 524.40,796.70" fill="#1e1e1e"/>
<text x="432" y="792" font-size="14" fill="#333333" text-anchor="start" textLength="55" lengthAdjust="spacingAndGlyphs" >SAE 8-32</text>
</svg>
</body></html>
